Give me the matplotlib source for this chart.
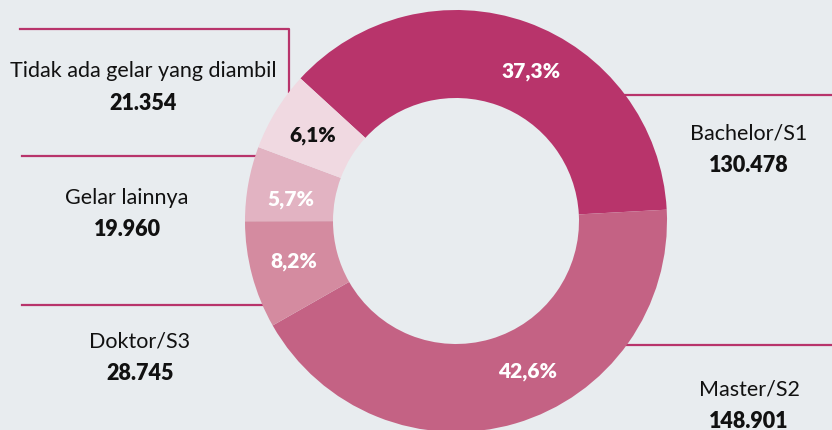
import matplotlib.pyplot as plt
import numpy as np

labels = ['Bachelor/S1', 'Master/S2', 'Doktor/S3', 'Gelar lainnya', 'Tidak ada gelar yang diambil']
counts = [130478, 148901, 28745, 19960, 21354]
pct_labels = ['37,3%', '42,6%', '8,2%', '5,7%', '6,1%']
count_labels = ['130.478', '148.901', '28.745', '19.960', '21.354']

colors = ['#b8346b', '#c46284', '#d48ba0', '#e2b3c2', '#f0d9e1']
pct_colors = ['white', 'white', 'white', 'white', '#111111']
bg = '#e8ecef'
line_c = '#b8346b'

plt.rcParams['font.family'] = ['Lato', 'DejaVu Sans']

W, H = 832, 430
fig = plt.figure(figsize=(8.32, 4.30), dpi=100, facecolor=bg)
ax = fig.add_axes([0, 0, 1, 1])
ax.set_facecolor(bg)

# work in pixel-like coords, y measured from the bottom
cx, cy = 456, H - 221
R, r_in = 211, 123

def py(y):
    return H - y

def edge_x(y, side):
    return cx + side * np.sqrt(R**2 - (py(y) - cy)**2)

# leader lines (behind the donut)
lw = 1.6
ax.plot([20, 289, 289], [py(29), py(29), cy + np.sqrt(R**2 - (289 - cx)**2)], color=line_c, lw=lw, zorder=0)
for y in [156, 305]:
    ax.plot([22, edge_x(y, -1)], [py(y), py(y)], color=line_c, lw=lw, zorder=0)
for y in [95, 345]:
    ax.plot([edge_x(y, 1), W], [py(y), py(y)], color=line_c, lw=lw, zorder=0)

wedges, _ = ax.pie(counts, colors=colors, startangle=137.5, counterclock=False,
                   radius=R, center=(cx, cy),
                   wedgeprops=dict(width=R - r_in, linewidth=0))
for w in wedges:
    w.set_zorder(2)

# percentage labels inside the ring
angle_shift = [-7, 9, -0.8, 2.7, 0.8]
r_lab = 167
for w, t, c, s in zip(wedges, pct_labels, pct_colors, angle_shift):
    a = np.deg2rad((w.theta1 + w.theta2) / 2 + s)
    ax.text(cx + r_lab * np.cos(a), cy + r_lab * np.sin(a), t, color=c,
            fontsize=15, fontweight='heavy', ha='center', va='center', zorder=3)

# category names and counts
name_pos = [(749, 133), (749, 390), (140, 342), (127, 198), (143, 71)]
for name, num, (x, y) in zip(labels, count_labels, name_pos):
    ax.text(x, py(y), name, fontsize=15.5, color='#111111', ha='center', va='center')
    ax.text(x, py(y + 32), num, fontsize=15.5, fontweight='heavy', color='#111111',
            ha='center', va='center')

ax.set_xlim(0, W)
ax.set_ylim(0, H)
ax.set_aspect('auto')
ax.axis('off')

plt.savefig('out.png', dpi=100, facecolor=bg)
plt.close()
